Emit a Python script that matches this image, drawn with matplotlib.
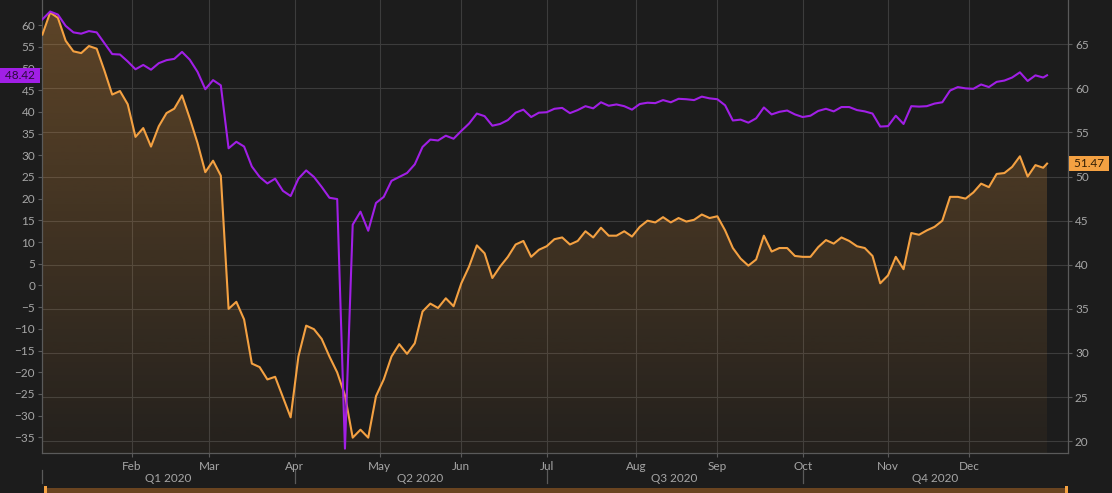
import numpy as np
import pandas as pd
import matplotlib
matplotlib.use('Agg')
import matplotlib.pyplot as plt
from matplotlib import transforms
from matplotlib.colors import to_rgb
from matplotlib.patches import Rectangle

plt.rcParams['font.family'] = ['Lato', 'DejaVu Sans']

# every second weekday of 2020 (chart x axis skips weekends)
dates = pd.bdate_range('2020-01-01', '2020-12-28')[::2]
last_date = pd.Timestamp('2020-12-29')

# WTI crude, left axis (purple)
wti = [
    61.3, 63.1, 62.4, 59.8, 58.3, 58.0, 58.6, 58.3, 55.8, 53.3,
    53.2, 51.6, 49.8, 50.8, 49.7, 51.2, 51.9, 52.2, 53.8, 52.0,
    49.2, 45.2, 47.3, 46.1, 31.6, 33.1, 32.0, 27.4, 25.0, 23.5,
    24.6, 21.8, 20.6, 24.6, 26.5, 25.0, 22.7, 20.2, 19.9, -37.6,
    14.0, 17.0, 12.6, 19.0, 20.4, 24.1, 25.0, 25.9, 27.9, 31.9,
    33.6, 33.4, 34.5, 33.8, 35.6, 37.3, 39.6, 39.0, 36.8, 37.2,
    38.1, 39.8, 40.5, 38.8, 39.8, 39.9, 40.7, 40.9, 39.7, 40.4,
    41.3, 40.8, 42.2, 41.4, 41.7, 41.3, 40.5, 41.8, 42.1, 42.0,
    42.7, 42.2, 43.0, 42.9, 42.7, 43.5, 43.1, 42.9, 41.5, 38.0,
    38.2, 37.5, 38.5, 41.0, 39.4, 40.0, 40.3, 39.4, 38.8, 39.1,
    40.2, 40.7, 40.1, 41.1, 41.1, 40.4, 40.1, 39.6, 36.6, 36.7,
    39.1, 37.2, 41.3, 41.2, 41.3, 41.9, 42.2, 44.9, 45.7, 45.4,
    45.3, 46.3, 45.7, 46.9, 47.2, 47.9, 49.1, 47.1, 48.4, 47.9,
]
wti_last = 48.42

# Brent crude, right axis (orange)
brent = [
    66.1, 68.6, 68.0, 65.4, 64.2, 64.0, 64.8, 64.5, 62.0, 59.3,
    59.7, 58.2, 54.5, 55.5, 53.4, 55.7, 57.2, 57.7, 59.2, 56.6,
    53.8, 50.5, 51.8, 50.1, 35.0, 35.8, 33.8, 28.8, 28.4, 27.0,
    27.3, 25.0, 22.7, 29.6, 33.1, 32.7, 31.6, 29.6, 27.8, 25.2,
    20.4, 21.3, 20.4, 25.1, 27.0, 29.6, 31.0, 29.9, 31.1, 34.7,
    35.6, 35.1, 36.2, 35.3, 37.9, 39.8, 42.2, 41.3, 38.5, 39.8,
    40.9, 42.3, 42.7, 40.9, 41.7, 42.1, 42.9, 43.1, 42.3, 42.7,
    43.8, 43.1, 44.2, 43.3, 43.3, 43.8, 43.2, 44.3, 45.0, 44.8,
    45.4, 44.8, 45.3, 44.9, 45.1, 45.7, 45.3, 45.5, 43.9, 41.9,
    40.7, 39.9, 40.6, 43.3, 41.5, 41.9, 41.9, 41.0, 40.9, 40.9,
    42.0, 42.8, 42.4, 43.1, 42.7, 42.1, 41.9, 41.0, 37.9, 38.8,
    40.9, 39.5, 43.6, 43.4, 43.9, 44.3, 45.0, 47.7, 47.7, 47.5,
    48.2, 49.2, 48.8, 50.3, 50.4, 51.1, 52.3, 50.0, 51.3, 51.0,
]
brent_last = 51.47

month_labels = ['Feb', 'Mar', 'Apr', 'May', 'Jun', 'Jul', 'Aug', 'Sep', 'Oct', 'Nov', 'Dec']
quarter_labels = ['Q1 2020', 'Q2 2020', 'Q3 2020', 'Q4 2020']
left_ticks = list(range(-35, 65, 5))
right_ticks = list(range(20, 70, 5))

BG = '#1c1c1c'
PURPLE = '#a11fe6'
ORANGE = '#f4a142'
GRID = '#3c3c3c'
SPINE = '#5a5a5a'
TXT = '#a6a6a6'
FS = 8.5

# weekday positions
axis_days = pd.bdate_range('2020-01-01', '2021-01-08')
x = axis_days.get_indexer(list(dates) + [last_date])
wti_all = np.array(wti + [wti_last])
brent_all = np.array(brent + [brent_last])
month_pos = axis_days.get_indexer(pd.date_range('2020-02-01', '2020-12-01', freq='BMS'))
q_start = axis_days.get_indexer(pd.date_range('2020-01-01', '2020-10-01', freq='BQS'))

xlim = (-0.1, 264.4)
ylim_l = (-38.6, 65.76)
ylim_r = (18.66, 70.02)

fig = plt.figure(figsize=(11.12, 4.93), dpi=100, facecolor=BG)
ax = fig.add_axes([42 / 1112, 40 / 493, 1026 / 1112, 453 / 493])
ax.set_facecolor(BG)
ax2 = ax.twinx()

# Brent with gradient fill (main axes, ticks on the right)
poly = ax.fill_between(x, brent_all, ylim_r[0], color='none', lw=0)
alpha = np.linspace(0.04, 0.31, 256)
rgba = np.zeros((256, 1, 4))
rgba[..., :3] = to_rgb(ORANGE)
rgba[:, 0, 3] = alpha
img = ax.imshow(rgba, extent=[x[0], x[-1], ylim_r[0], ylim_r[1]], origin='lower',
                aspect='auto', zorder=1, interpolation='bilinear')
img.set_clip_path(poly.get_paths()[0], transform=ax.transData)
ax.plot(x, brent_all, color=ORANGE, lw=1.5, zorder=3, solid_joinstyle='round')

ax.set_xlim(*xlim)
ax.set_ylim(*ylim_r)
ax.yaxis.tick_right()
ax.set_yticks(right_ticks)
ax.set_xticks(month_pos, month_labels)
ax.grid(True, color=GRID, lw=0.8, zorder=0)
ax.set_axisbelow(True)
ax.tick_params(axis='y', colors=SPINE, labelcolor=TXT, labelsize=FS, length=3, pad=2)
ax.tick_params(axis='x', colors=SPINE, labelcolor=TXT, labelsize=FS, length=3, pad=2.5)
for side in ['left', 'right', 'bottom']:
    ax.spines[side].set_color(SPINE)
    ax.spines[side].set_linewidth(0.9)
ax.spines['top'].set_visible(False)

# WTI on the twin axes, ticks on the left
ax2.plot(x, wti_all, color=PURPLE, lw=1.5, zorder=3, solid_joinstyle='round')
ax2.set_ylim(*ylim_l)
ax2.yaxis.tick_left()
ax2.set_yticks(left_ticks)
ax2.tick_params(axis='y', colors=SPINE, labelcolor=TXT, labelsize=FS, length=3, pad=2)
for s in ax2.spines.values():
    s.set_visible(False)

# last value tags
ax2.annotate(f' {wti_last:.2f} ', xy=(0, wti_last), xycoords=('axes fraction', 'data'),
             xytext=(-4, 0), textcoords='offset pixels', ha='right', va='center',
             fontsize=FS, color='#2b0a3d', zorder=10, annotation_clip=False,
             bbox=dict(boxstyle='square,pad=0.15', fc=PURPLE, ec='none'))
ax.annotate(f' {brent_last:.2f} ', xy=(1, brent_last), xycoords=('axes fraction', 'data'),
            xytext=(3, 0), textcoords='offset pixels', ha='left', va='center',
            fontsize=FS, color='#2e1c05', zorder=10, annotation_clip=False,
            bbox=dict(boxstyle='square,pad=0.15', fc=ORANGE, ec='none'))

# quarter row under the month labels
xt = transforms.blended_transform_factory(ax.transData, ax.transAxes)
q_edges = list(q_start) + [xlim[1]]
for i, lab in enumerate(quarter_labels):
    lo = max(q_edges[i], xlim[0])
    mid = (lo + q_edges[i + 1]) / 2
    ax.text(mid, -29 / 453, lab, transform=xt, ha='center', va='baseline',
            fontsize=FS, color=TXT)
    ax.plot([q_edges[i], q_edges[i]], [-17 / 453, -30 / 453], transform=xt,
            color=SPINE, lw=0.9, clip_on=False)

# range slider bar at the bottom
bt = transforms.blended_transform_factory(ax.transAxes, fig.transFigure)
fig.patches.append(Rectangle((0.003, 0), 0.997, 5 / 493, transform=bt,
                             fc='#6a4420', ec='none'))
for hx in (0.002, 0.997):
    fig.patches.append(Rectangle((hx, 0), 0.003, 7 / 493, transform=bt,
                                 fc=ORANGE, ec='none'))

fig.savefig('out.png', dpi=100, facecolor=BG)
